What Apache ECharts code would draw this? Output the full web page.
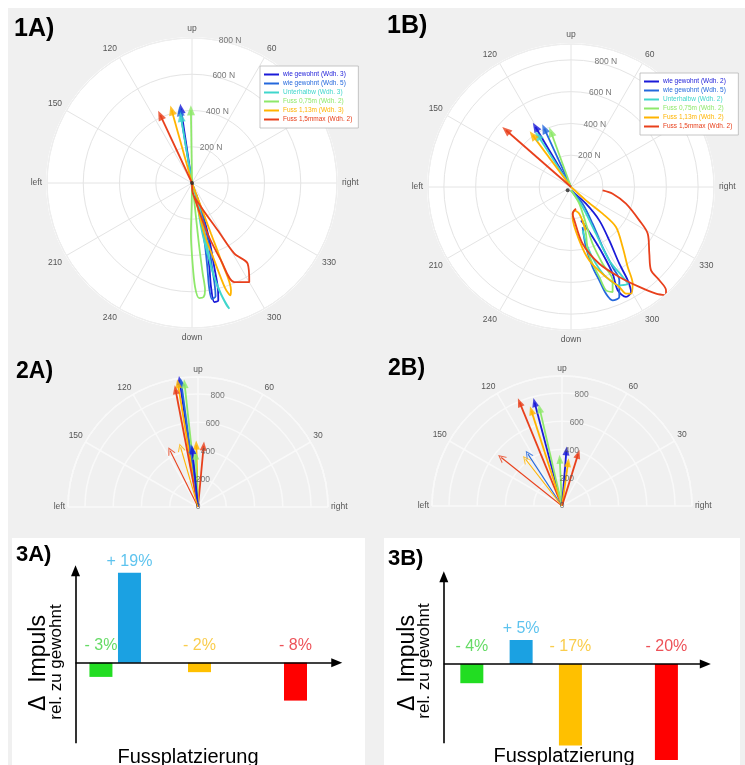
<!DOCTYPE html>
<html><head><meta charset="utf-8">
<script src="https://cdn.jsdelivr.net/npm/echarts@6/dist/echarts.min.js"></script>
<style>html,body{margin:0;padding:0;background:#fff}#c{width:745px;height:765px}</style>
</head><body><div id="c"></div>
<script>
// ---------- DATA ----------
const names1A = ['wie gewohnt (Wdh. 3)','wie gewohnt (Wdh. 5)','Unterhalbw (Wdh. 3)','Fuss 0,75m (Wdh. 2)','Fuss 1,13m (Wdh. 3)','Fuss 1,5mmax (Wdh. 2)'];
const names1B = ['wie gewohnt (Wdh. 2)','wie gewohnt (Wdh. 5)','Unterhalbw (Wdh. 2)','Fuss 0,75m (Wdh. 2)','Fuss 1,13m (Wdh. 2)','Fuss 1,5mmax (Wdh. 2)'];
const lineColors = ['#1a1ad8','#2468dc','#3fd6cc','#8ee86a','#ffb400','#e8401c'];

const angleNames = {0:'right',90:'up',180:'left',270:'down'};
const rTicks1 = [200,400,600,800];
const rTicks2 = [0,200,400,600,800];

// Force vectors in N (x: right, y: up)
const arrows1A = [[-61,410],[-66,396],[-61,364],[-6,401],[-112,401],[-175,374]];
const traces1A = [
  [[0,0],[31,-96],[50,-188],[77,-316],[96,-464],[105,-574],[123,-657],[145,-648],[142,-574],[123,-464],[96,-316],[59,-169],[22,-59]],
  [[0,0],[28,-90],[45,-190],[70,-330],[85,-470],[95,-580],[110,-640],[130,-625],[125,-560],[110,-460],[90,-320],[55,-170],[20,-60]],
  [[0,0],[40,-132],[77,-316],[105,-464],[160,-611],[206,-694],[188,-670],[142,-574],[86,-390],[50,-243],[28,-96]],
  [[0,0],[-2,-132],[-6,-280],[2,-427],[17,-574],[40,-635],[64,-629],[72,-592],[59,-500],[40,-353],[22,-188],[6,-40]],
  [[0,0],[50,-132],[105,-280],[160,-427],[215,-592],[212,-620],[182,-578],[123,-427],[68,-280],[22,-96]],
  [[0,0],[4,-55],[50,-132],[142,-261],[234,-390],[307,-445],[316,-547],[234,-547],[160,-427],[86,-280],[31,-132],[6,-59]]
];
const arrows1B = [[-224,378],[-168,367],[-210,325],[-126,346],[-241,325],[-409,357]];
const traces1B = [
  [[0,-21],[94,-105],[178,-210],[241,-336],[304,-483],[357,-587],[378,-661],[346,-692],[294,-650],[262,-545],[199,-420],[136,-315],[94,-252],[63,-210]],
  [[0,-21],[73,-105],[136,-231],[199,-378],[262,-504],[304,-587],[304,-692],[262,-713],[220,-671],[178,-587],[136,-504],[94,-378],[73,-252]],
  [[0,-21],[73,-126],[157,-294],[241,-462],[325,-566],[357,-608],[304,-619],[220,-566],[157,-483],[105,-378],[73,-273]],
  [[0,-21],[52,-105],[94,-231],[136,-357],[199,-483],[262,-587],[262,-661],[220,-650],[178,-566],[136,-483],[105,-399],[94,-294],[73,-210]],
  [[0,0],[94,-84],[199,-168],[283,-252],[325,-378],[357,-504],[388,-608],[378,-671],[346,-671],[304,-629],[220,-566],[115,-462],[52,-336],[10,-189],[21,-147],[52,-168],[94,-273]],
  [[199,-21],[262,-42],[346,-105],[430,-210],[483,-294],[493,-420],[504,-525],[556,-587],[598,-650],[598,-682],[535,-671],[430,-629],[304,-566],[178,-483],[73,-357],[21,-210],[10,-168],[31,-136]]
];
const origin1A = [[0,0]];
const origin1B = [[-21,-21]];

// 2A / 2B resultant impulses: colour index, tip (N), kind
const arrows2AColor = [0,1,4,5,3, 5,4,3,1,0, 5,4];
const arrows2ATip = [[-130,896],[-119,882],[-142,872],[-159,830],[-95,872],[40,431],[-12,438],[-17,367],[-47,415],[-40,405],[-197,398],[-123,422]];
const arrows2AKind = ['main','main','main','main','main','main','main','main','main','main','sub','sub'];
const arrows2BColor = [5,0,4,3, 3,0,4,5, 5,1,4];
const arrows2BTip = [[-300,733],[-194,733],[-217,675],[-158,689],[-16,331],[31,390],[43,307],[114,367],[-430,343],[-241,367],[-258,331]];
const arrows2BKind = ['main','main','main','main','main','main','main','main','sub','sub','sub'];

// 3A / 3B bar charts
const footPos3A = [0.75, 0.86, 1.13, 1.5];
const impulse3A = [-3, 19, -2, -8];
const footPos3B = [0.75, 0.94, 1.13, 1.5];
const impulse3B = [-4, 5, -17, -20];
const barColors = ['#22dd22','#1ba1e2','#ffc000','#ff0000'];
const barLabelColors = ['#3ed23e','#35b4ea','#f9c020','#e8262e'];
const axisX3A = [0.652, 1.659], axisY3A = [-17, 19.4];
const axisX3B = [0.642, 1.650], axisY3B = [-16.5, 18.2];

// ---------- BUILD ----------
const FONT = '"Liberation Sans", Arial, sans-serif';
function toPolar(p){ const r=Math.hypot(p[0],p[1]); let a=Math.atan2(p[1],p[0])*180/Math.PI; if(a<0)a+=360; return [r,a]; }
const angleFmt = v => v===360 ? '' : (angleNames[v] !== undefined ? angleNames[v] : String(v));

function fullAngleAxis(idx){
  return {polarIndex:idx, type:'value', min:0, max:360, interval:30, startAngle:0, clockwise:false,
    axisLine:{show:true,lineStyle:{color:'#f0f0f0',width:1}}, axisTick:{show:false},
    axisLabel:{margin:5,color:'#555',fontSize:8.5,fontFamily:FONT,formatter:angleFmt},
    splitLine:{show:true,lineStyle:{color:'#e4e4e4',width:1}}};
}
function halfAngleAxis(idx){
  return {polarIndex:idx, type:'value', min:0, max:180, interval:30, startAngle:0, endAngle:180, clockwise:false,
    axisLine:{show:true,lineStyle:{color:'#f9f9f9',width:1.5}}, axisTick:{show:false},
    axisLabel:{margin:3,color:'#555',fontSize:8.5,fontFamily:FONT,formatter:angleFmt},
    splitLine:{show:true,lineStyle:{color:'#f9f9f9',width:1.5}}};
}
function radAxis(idx,max,color,w){
  return {polarIndex:idx, type:'value', min:0, max:max, interval:200, axisLine:{show:false}, axisTick:{show:false},
    axisLabel:{show:false}, splitLine:{show:true,lineStyle:{color:color,width:w}}};
}

const series = [];

function polarPanel(pi, names, traces, arrows, origin){
  traces.forEach((tr,i)=>{
    series.push({type:'line', name:names[i], coordinateSystem:'polar', polarIndex:pi, color:lineColors[i],
      showSymbol:false, symbol:'none', smooth:0.3, lineStyle:{width:1.8,color:lineColors[i]}, z:3,
      data: tr.map(toPolar)});
  });
  arrows.forEach((a,i)=>{
    const p = toPolar(a);
    series.push({type:'line', coordinateSystem:'polar', polarIndex:pi, showSymbol:false, symbol:'none',
      lineStyle:{width:1.8,color:lineColors[i]}, z:4, data:[[0,p[1]], p]});
  });
  series.push({type:'scatter', coordinateSystem:'polar', polarIndex:pi, z:5, silent:true,
    data: arrows.map((a,i)=>{ const p=toPolar(a); return {value:p, symbol:'triangle', symbolSize:[8,10], symbolRotate:p[1]-90, itemStyle:{color:lineColors[i]}}; })});
  series.push({type:'scatter', coordinateSystem:'polar', polarIndex:pi, z:6, silent:true, symbolSize:4,
    itemStyle:{color:'#222'}, data: origin.map(toPolar)});
  series.push({type:'scatter', coordinateSystem:'polar', polarIndex:pi, z:6, silent:true, symbolSize:1,
    itemStyle:{color:'rgba(0,0,0,0)'}, data: rTicks1.map(r=>[r,80]),
    label:{show:true, position:'right', distance:1, color:'#555', fontSize:8.5, fontFamily:FONT, formatter:p=>p.value[0]+' N'}});
}

function halfPanel(pi, colors, tips, kinds){
  tips.forEach((a,i)=>{
    const p = toPolar(a);
    series.push({type:'line', coordinateSystem:'polar', polarIndex:pi, showSymbol:false, symbol:'none',
      lineStyle:{width:kinds[i]==='main'?1.8:1.1,color:lineColors[colors[i]]}, z:4, data:[[0,p[1]], p]});
  });
  series.push({type:'scatter', coordinateSystem:'polar', polarIndex:pi, z:5, silent:true,
    data: tips.map((a,i)=>{ const p=toPolar(a); const main = kinds[i]==='main';
      return {value:p, symbol: main ? 'triangle' : 'path://M0,10 L5,0 L10,10 L8.6,10 L5,2.8 L1.4,10 Z',
        symbolSize: main ? [7,9] : [8,8], symbolRotate:p[1]-90, itemStyle:{color:lineColors[colors[i]]}}; })});
  series.push({type:'scatter', coordinateSystem:'polar', polarIndex:pi, z:6, silent:true, symbolSize:1,
    itemStyle:{color:'rgba(0,0,0,0)'}, data: rTicks2.map(r=>[r,80]),
    label:{show:true, position:'inside', color:'#555', fontSize:8.5, fontFamily:FONT, formatter:p=>String(p.value[0])}});
}

polarPanel(0, names1A, traces1A, arrows1A, origin1A);
polarPanel(1, names1B, traces1B, arrows1B, origin1B);
halfPanel(2, arrows2AColor, arrows2ATip, arrows2AKind);
halfPanel(3, arrows2BColor, arrows2BTip, arrows2BKind);

function barPanel(gi, pos, vals, ax, ay){
  series.push({type:'bar', xAxisIndex:gi, yAxisIndex:gi, barWidth:23, silent:true,
    data: pos.map((x,i)=>({value:[x,vals[i]], itemStyle:{color:barColors[i]}})),
    markLine:{silent:true, symbol:['none','triangle'], symbolSize:[9,11], label:{show:false},
      lineStyle:{color:'#000',width:1.6,type:'solid'}, emphasis:{disabled:true},
      data:[[{coord:[ax[0],ay[0]]},{coord:[ax[0],ay[1]]}],[{coord:[ax[0],0]},{coord:[ax[1],0]}]]}});
  series.push({type:'scatter', xAxisIndex:gi, yAxisIndex:gi, symbolSize:1, silent:true, itemStyle:{color:'rgba(0,0,0,0)'},
    data: pos.map((x,i)=>({value:[x, Math.max(vals[i],0)],
      label:{show:true, position:'top', distance: vals[i]>0 ? 3 : 9, color:barLabelColors[i], fontSize:16, fontFamily:FONT,
        formatter:(vals[i]>0?'+ ':'- ')+Math.abs(vals[i])+'%'}}))});
}
barPanel(0, footPos3A, impulse3A, axisX3A, axisY3A);
barPanel(1, footPos3B, impulse3B, axisX3B, axisY3B);

function legendFor(names, left, top){
  return {orient:'vertical', left:left, top:top, itemWidth:15, itemHeight:2, itemGap:0, icon:'rect',
    padding:[4,6,4,4], backgroundColor:'#fff', borderColor:'#b8b8b8', borderWidth:0.8, borderRadius:0,
    selectedMode:false, textStyle:{fontSize:6.5, fontFamily:FONT, lineHeight:9, padding:[0,0,0,-1]},
    data: names.map((n,i)=>({name:n, textStyle:{color:lineColors[i]}}))};
}

function txt(t, x, y, font){
  return {type:'text', x:x, y:y, z:20, silent:true,
    style:{text:t, font:font, fill:'#000', align:'left', verticalAlign:'middle', textAlign:'left', textVerticalAlign:'middle'}};
}
function ctxt(t, x, y, font, rot){
  return {type:'text', x:x, y:y, z:20, silent:true, rotation:rot||0,
    style:{text:t, font:font, fill:'#000', align:'center', verticalAlign:'middle', textAlign:'center', textVerticalAlign:'middle'}};
}

const option = {
  animation:false,
  backgroundColor:'#ffffff',
  polar:[
    {center:[192,183], radius:145},
    {center:[571,187], radius:143},
    {center:[198,507], radius:130},
    {center:[562,506], radius:130}
  ],
  angleAxis:[fullAngleAxis(0), fullAngleAxis(1), halfAngleAxis(2), halfAngleAxis(3)],
  radiusAxis:[radAxis(0,800,'#e4e4e4',1), radAxis(1,900,'#e4e4e4',1), radAxis(2,920,'#f9f9f9',1.5), radAxis(3,920,'#f9f9f9',1.5)],
  grid:[
    {left:75, top:567.9, width:272.4, height:194.3},
    {left:442, top:568, width:276.3, height:196.8}
  ],
  xAxis:[
    {gridIndex:0, type:'value', min:0.65, max:1.70, show:false},
    {gridIndex:1, type:'value', min:0.635, max:1.70, show:false}
  ],
  yAxis:[
    {gridIndex:0, type:'value', min:-21, max:20, show:false},
    {gridIndex:1, type:'value', min:-21, max:20, show:false}
  ],
  legend:[legendFor(names1A,260,66), legendFor(names1B,640,73)],
  graphic:[
    {type:'rect', z:-10, silent:true, shape:{x:8,y:8,width:737,height:757}, style:{fill:'#f0f0f0'}},
    {type:'circle', z:-9, silent:true, shape:{cx:192,cy:183,r:146}, style:{fill:'#ffffff'}},
    {type:'circle', z:-9, silent:true, shape:{cx:571,cy:187,r:144}, style:{fill:'#ffffff'}},
    {type:'rect', z:-9, silent:true, shape:{x:12,y:538,width:353,height:227}, style:{fill:'#ffffff'}},
    {type:'rect', z:-9, silent:true, shape:{x:384,y:538,width:356,height:227}, style:{fill:'#ffffff'}},
    txt('1A)', 14, 29, 'bold 25px '+FONT),
    txt('1B)', 387, 26, 'bold 25px '+FONT),
    txt('2A)', 16, 372, 'bold 23px '+FONT),
    txt('2B)', 388, 369, 'bold 23px '+FONT),
    txt('3A)', 16, 555, 'bold 22px '+FONT),
    txt('3B)', 388, 559, 'bold 22px '+FONT),
    ctxt('Fussplatzierung', 188, 757, '20px '+FONT),
    ctxt('Fussplatzierung', 564, 756, '20px '+FONT),
    ctxt('\u0394  Impuls', 39, 663, '23px '+FONT, Math.PI/2),
    ctxt('rel. zu gewohnt', 56, 662, '17px '+FONT, Math.PI/2),
    ctxt('\u0394  Impuls', 408, 663, '23px '+FONT, Math.PI/2),
    ctxt('rel. zu gewohnt', 424, 661, '17px '+FONT, Math.PI/2)
  ],
  series: series
};
const chart = echarts.init(document.getElementById('c'), null, {width:745, height:765});
chart.setOption(option);
</script></body></html>
